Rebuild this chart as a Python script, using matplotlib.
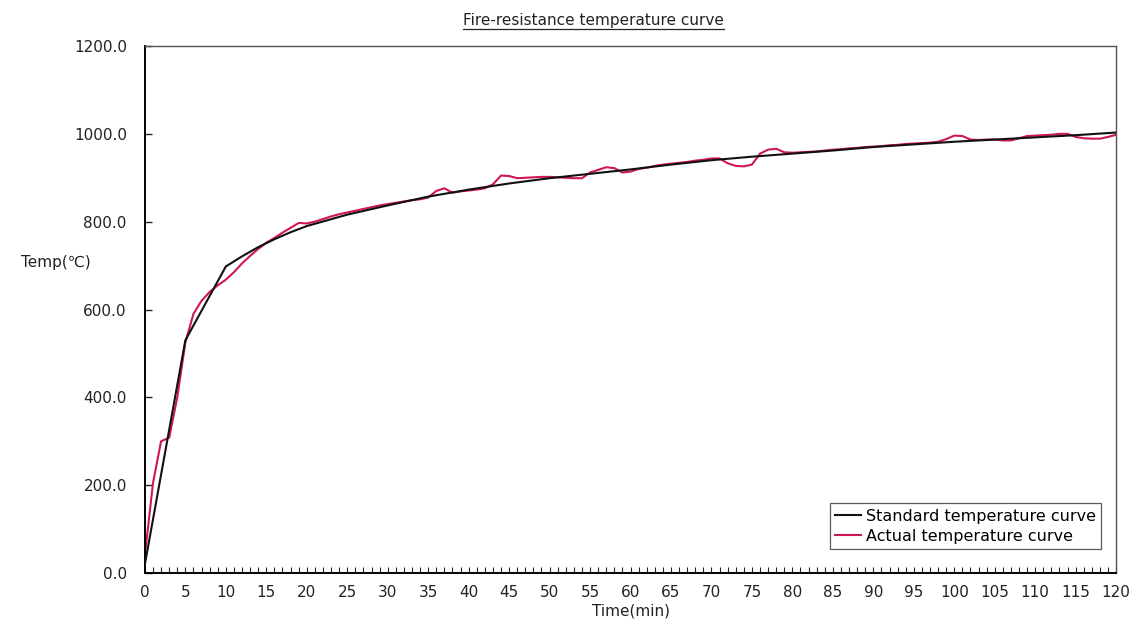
import matplotlib
matplotlib.use("Agg")
import matplotlib.pyplot as plt
from matplotlib.lines import Line2D
from matplotlib.ticker import MultipleLocator, FormatStrFormatter

# ---- data ----
std_time = [0, 5, 10, 12, 14, 16, 18, 20, 25, 30, 35, 40, 45, 50, 55, 60, 65, 70,
            75, 80, 85, 90, 95, 100, 105, 110, 115, 120]
std_temp = [20, 530, 698, 721, 742, 760, 776, 790, 816, 837, 857, 873, 887, 899,
            909, 919, 930, 940, 948, 955, 962, 970, 976, 982, 987, 992, 997, 1003]

act_time = list(range(0, 121))
act_temp = [40, 205, 300, 308, 400, 525, 590, 620, 640, 655,
            668, 685, 705, 722, 738, 752, 763, 775, 786, 797,
            796, 800, 806, 812, 817, 821, 825, 829, 833, 837,
            840, 843, 846, 849, 851, 855, 870, 876, 866, 869,
            871, 873, 876, 885, 905, 904, 899, 900, 901, 902,
            902, 901, 900, 899, 899, 912, 918, 924, 922, 912,
            914, 920, 923, 927, 930, 932, 934, 936, 939, 941,
            944, 944, 933, 927, 926, 930, 955, 964, 966, 958,
            957, 958, 959, 960, 962, 964, 965, 967, 968, 970,
            971, 972, 974, 975, 977, 978, 979, 980, 982, 988,
            996, 995, 987, 986, 987, 987, 985, 985, 990, 995,
            996, 997, 998, 1000, 1000, 993, 990, 989, 989, 993,
            998]

title = "Fire-resistance temperature curve"
xlabel = "Time(min)"
ylabel = "Temp(\u2103)"
labels = ["Standard temperature curve", "Actual temperature curve"]

plt.rcParams['font.family'] = ['DejaVu Sans']

fig = plt.figure(figsize=(11.32, 6.33), dpi=100)
ax = fig.add_axes([0.128, 0.0948, 0.858, 0.8325])

ax.plot(std_time, std_temp, color='#111111', lw=1.5, label=labels[0], zorder=3)
ax.plot(act_time, act_temp, color='#d0165a', lw=1.5, label=labels[1], zorder=2)

ax.set_xlim(0, 120)
ax.set_ylim(0, 1200)
ax.xaxis.set_major_locator(MultipleLocator(5))
ax.xaxis.set_minor_locator(MultipleLocator(1))
ax.yaxis.set_major_locator(MultipleLocator(200))
ax.yaxis.set_major_formatter(FormatStrFormatter('%.1f'))
ax.tick_params(axis='x', which='both', direction='in', length=4, width=0.8,
               labelsize=11, pad=9, colors='#222222')
ax.tick_params(axis='y', which='major', direction='in', length=5, width=1,
               labelsize=11, pad=13, colors='#222222')
for s in ['left', 'bottom']:
    ax.spines[s].set_linewidth(1.4)
for s in ['top', 'right']:
    ax.spines[s].set_linewidth(1.0)
    ax.spines[s].set_color('#555555')

ax.set_xlabel(xlabel, fontsize=11, color='#222222', labelpad=2)
ax.set_ylabel(ylabel, fontsize=11, color='#222222', rotation=0, labelpad=0)
ax.yaxis.set_label_coords(-0.092, 0.575)

leg = ax.legend(loc='lower left', bbox_to_anchor=(0.705, 0.045), fontsize=11.5,
                frameon=True, fancybox=False, handlelength=1.6, handletextpad=0.3,
                borderpad=0.35, labelspacing=0.3, borderaxespad=0)
leg.get_frame().set_edgecolor('#333333')
leg.get_frame().set_linewidth(0.9)

t = fig.text(0.524, 0.968, title, ha='center', va='center', fontsize=11, color='#222222')
fig.canvas.draw()
bb = t.get_window_extent().transformed(fig.transFigure.inverted())
fig.add_artist(Line2D([bb.x0, bb.x1], [bb.y0 - 0.002, bb.y0 - 0.002],
                      transform=fig.transFigure, color='#222222', lw=0.9))

fig.savefig("out.png", dpi=100)
